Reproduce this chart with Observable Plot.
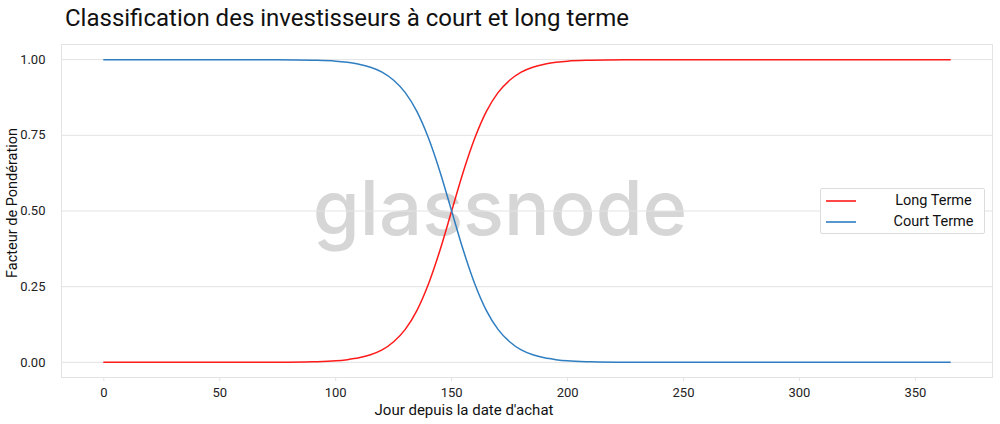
<!DOCTYPE html>
<html>
<head>
<meta charset="utf-8">
<script src="https://cdn.jsdelivr.net/npm/d3@7"></script>
<script src="https://cdn.jsdelivr.net/npm/@observablehq/plot@0.6"></script>
<style>
  body { margin: 0; background: #fff; font-family: Roboto, sans-serif; }
  #wrap { position: relative; width: 1000px; height: 424px; overflow: hidden; }
  #title { position: absolute; left: 65px; top: 4px; font-size: 24px; color: #111; white-space: nowrap; }
  #chart { position: absolute; left: 0; top: 40px; }
  #legend { position: absolute; left: 820px; top: 188px; width: 163px; height: 44px; border: 1px solid #dcdcdc; border-radius: 2px; background: #fff; font-size: 14.5px; color: #111; }
  .row { position: absolute; left: 0; height: 20px; width: 100%; }
  .row svg { position: absolute; left: 5px; top: 0; }
  .row span { position: absolute; left: 62px; right: 0; text-align: center; line-height: 20px; }
</style>
</head>
<body>
<div id="wrap">
  <div id="title">Classification des investisseurs à court et long terme</div>
  <div id="chart"></div>
  <div id="legend">
    <div class="row" style="top:2px"><svg width="30" height="20"><line x1="0" x2="30" y1="10" y2="10" stroke="#ff1a1a" stroke-width="1.6"/></svg><span>Long Terme</span></div>
    <div class="row" style="top:23px"><svg width="30" height="20"><line x1="0" x2="30" y1="10" y2="10" stroke="#2f7ec1" stroke-width="1.6"/></svg><span>Court Terme</span></div>
  </div>
</div>
<script>
const days = [0, 25, 50, 75, 90, 100, 105, 110, 115, 120, 125, 130, 135, 140, 145, 150, 155, 160, 165, 170, 175, 180, 185, 190, 195, 200, 210, 225, 250, 300, 365];
const longTerme = [0, 0, 0, 0.0004, 0.002, 0.005, 0.009, 0.015, 0.025, 0.041, 0.068, 0.109, 0.171, 0.259, 0.371, 0.5, 0.629, 0.741, 0.829, 0.891, 0.932, 0.959, 0.975, 0.985, 0.991, 0.995, 0.998, 0.9996, 1, 1, 1];
const courtTerme = [1, 1, 1, 0.9996, 0.998, 0.995, 0.991, 0.985, 0.975, 0.959, 0.932, 0.891, 0.829, 0.741, 0.629, 0.5, 0.371, 0.259, 0.171, 0.109, 0.068, 0.041, 0.025, 0.015, 0.009, 0.005, 0.002, 0.0004, 0, 0, 0];
const xTicks = [0, 50, 100, 150, 200, 250, 300, 350];
const yTicks = [0, 0.25, 0.5, 0.75, 1];
const seriesNames = ["Long Terme", "Court Terme"];
const colors = ["#ff1a1a", "#2f7ec1"];

const data = [];
days.forEach((d, i) => {
  data.push({day: d, value: longTerme[i], serie: seriesNames[0]});
  data.push({day: d, value: courtTerme[i], serie: seriesNames[1]});
});

const chart = Plot.plot({
  width: 1000,
  height: 384,
  marginLeft: 61,
  marginRight: 8,
  marginTop: 4,
  marginBottom: 47,
  style: {fontFamily: "Roboto, sans-serif", fontSize: "13px", color: "#222", background: "#fff"},
  x: {domain: [-18.25, 383.25], ticks: xTicks, label: null},
  y: {domain: [-0.05, 1.05], ticks: yTicks, label: null},
  color: {domain: seriesNames, range: colors},
  marks: [
    Plot.text(["glassnode"], {frameAnchor: "middle", dx: -27, dy: 0, fontSize: 76, fill: "#d6d6d6", fontFamily: "Inter, Lato, sans-serif", fontWeight: 500}),
    Plot.gridY(yTicks, {stroke: "#e3e3e3", strokeOpacity: 1, strokeWidth: 1}),
    Plot.frame({stroke: "#e3e3e3"}),
    Plot.axisX(xTicks, {tickSize: 4, stroke: "#e3e3e3", text: null, label: null}),
    Plot.axisX(xTicks, {tickSize: 0, tickPadding: 10, label: null, fill: "#222", tickFormat: d3.format("d")}),
    Plot.axisY(yTicks, {tickSize: 0, tickPadding: 16, label: null, fill: "#222", tickFormat: d3.format(".2f")}),
    Plot.line(data, {x: "day", y: "value", stroke: "serie", strokeWidth: 1.5, curve: "monotone-x"}),
    Plot.text(["Jour depuis la date d'achat"], {frameAnchor: "bottom", dx: -63, dy: 37, fontSize: 15, fill: "#111"}),
    Plot.text(["Facteur de Pondération"], {frameAnchor: "left", textAnchor: "middle", rotate: -90, dx: -49, dy: -8, fontSize: 14.5, fill: "#111"})
  ]
});
document.getElementById("chart").appendChild(chart);
</script>
</body>
</html>
